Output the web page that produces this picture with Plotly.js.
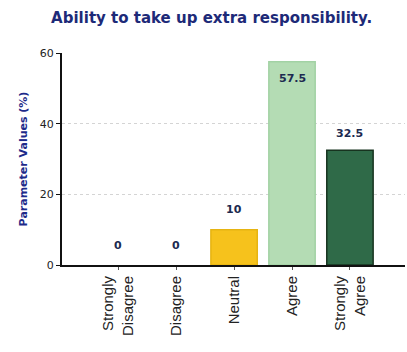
<!DOCTYPE html>
<html><head><meta charset="utf-8">
<script src="https://cdn.plot.ly/plotly-3.0.1.min.js"></script>
<style>html,body{margin:0;padding:0;background:#fff}#c{width:407px;height:352px}</style>
</head><body><div id="c"></div>
<script>
var categories = ["Strongly<br>Disagree", "Disagree", "Neutral", "Agree", "Strongly<br>Agree"];
var values = [0, 0, 10, 57.5, 32.5];
var labels = ["0", "0", "10", "57.5", "32.5"];
var colors = ["#f2c21a", "#f2c21a", "#f6c21c", "#b4dcb4", "#2f6a48"];
var lineColors = ["rgba(0,0,0,0)", "rgba(0,0,0,0)", "#e6b412", "#a2d2a4", "#17331f"];
var labelShift = [20, 20, 20, -17, 17];

var trace = {
  type: "bar",
  x: categories.map(function(c, i){ return i; }),
  y: values,
  width: 0.8,
  marker: {color: colors, line: {color: lineColors, width: 1.5}},
  hoverinfo: "none"
};
var annotations = values.map(function(v, i){
  return {x: i, y: v, xref: "x", yref: "y", text: "<b>" + labels[i] + "</b>", showarrow: false,
    yshift: labelShift[i], yanchor: "middle",
    font: {family: "DejaVu Sans, Verdana, sans-serif", size: 11, color: "#1c2a50"}};
});
var layout = {
  width: 407, height: 352,
  margin: {l: 62, r: 2, t: 53, b: 87},
  paper_bgcolor: "#fff", plot_bgcolor: "#fff",
  showlegend: false,
  title: {text: "<b>Ability to take up extra responsibility.</b>", x: 0.52, xanchor: "center", y: 0.95, yanchor: "middle",
    font: {family: "DejaVu Sans, Verdana, sans-serif", size: 15, color: "#1d2a78"}},
  xaxis: {
    range: [-0.97, 4.95], tickmode: "array", tickvals: [0,1,2,3,4], ticktext: categories,
    tickangle: -90, showline: true, linecolor: "#111", linewidth: 2,
    ticks: "outside", ticklen: 3, tickcolor: "#555",
    tickfont: {family: "Liberation Sans, Arial, sans-serif", size: 15, color: "#222"},
    showgrid: false, zeroline: false, fixedrange: true
  },
  yaxis: {
    range: [0, 60], tickvals: [0, 20, 40, 60], showline: true, linecolor: "#111", linewidth: 2,
    ticks: "outside", ticklen: 4, tickcolor: "#111",
    tickfont: {family: "DejaVu Sans, Verdana, sans-serif", size: 11, color: "#222"},
    showgrid: true, gridcolor: "#d4d4d4", griddash: "dot", gridwidth: 1, zeroline: false,
    title: {text: "<b>Parameter Values (%)</b>", standoff: 10,
      font: {family: "DejaVu Sans, Verdana, sans-serif", size: 11, color: "#1d2a8a"}},
    fixedrange: true
  },
  annotations: annotations
};
Plotly.newPlot("c", [trace], layout, {displayModeBar: false, staticPlot: true});
</script></body></html>
